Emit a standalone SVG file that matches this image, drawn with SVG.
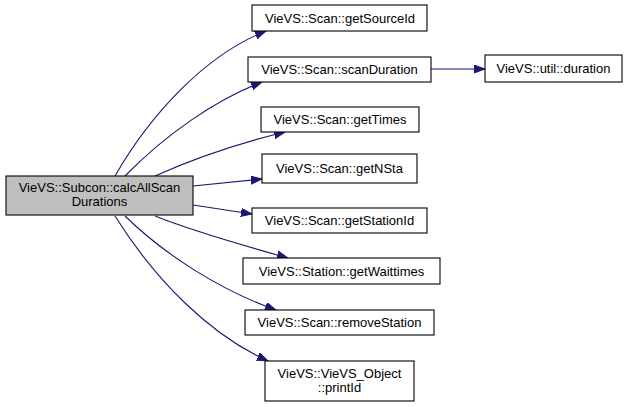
<svg xmlns="http://www.w3.org/2000/svg" width="629" height="407" viewBox="0 0 629 407">
<style>
.n rect{fill:#ffffff;stroke:#000000;stroke-width:1.1}
.n.main rect{fill:#bfbfbf}
text{font-family:"Liberation Sans",Arial,sans-serif;font-size:13px;fill:#000000;text-anchor:middle}
.e path{fill:none;stroke:#191970;stroke-width:1.1;marker-end:url(#ah)}
</style>
<defs>
<marker id="ah" markerUnits="userSpaceOnUse" markerWidth="12" markerHeight="9" refX="11" refY="4" orient="auto">
<path d="M0,0 L11,4 L0,8 z" fill="#191970" stroke="#191970" stroke-width="1"/>
</marker>
</defs>
<rect width="629" height="407" fill="#ffffff"/>
<g id="connectors" class="e">
<path d="M115,176 C150,115 205,55 266,31"/>
<path d="M125,176 C165,135 215,100 262,82"/>
<path d="M155,176 C195,158 240,143 285,132"/>
<path d="M193,186 L262,179"/>
<path d="M193,205 L252,214"/>
<path d="M155,216 C195,232 245,246 288,258"/>
<path d="M125,216 C165,255 220,290 276,310"/>
<path d="M115,216 C155,280 210,335 268,361"/>
<path d="M431,69 L485,69"/>
</g>
<g id="main" class="n main"><rect x="6" y="176" width="187" height="39"/><text x="99.5" y="192">VieVS::Subcon::calcAllScan</text><text x="99.5" y="206">Durations</text></g>
<g id="getSourceId" class="n"><rect x="252" y="5" width="175" height="26"/><text x="340" y="22.5">VieVS::Scan::getSourceId</text></g>
<g id="scanDuration" class="n"><rect x="248" y="57" width="183" height="25"/><text x="339.5" y="74">VieVS::Scan::scanDuration</text></g>
<g id="duration" class="n"><rect x="485" y="55" width="137" height="27"/><text x="553.5" y="73">VieVS::util::duration</text></g>
<g id="getTimes" class="n"><rect x="261" y="107" width="158" height="25"/><text x="340" y="124">VieVS::Scan::getTimes</text></g>
<g id="getNSta" class="n"><rect x="262" y="154" width="155" height="29"/><text x="339.5" y="173">VieVS::Scan::getNSta</text></g>
<g id="getStationId" class="n"><rect x="252" y="208" width="175" height="25"/><text x="339.5" y="225">VieVS::Scan::getStationId</text></g>
<g id="getWaittimes" class="n"><rect x="243" y="258" width="197" height="26"/><text x="341.5" y="275.5">VieVS::Station::getWaittimes</text></g>
<g id="removeStation" class="n"><rect x="245" y="310" width="189" height="25"/><text x="339.5" y="327">VieVS::Scan::removeStation</text></g>
<g id="printId" class="n"><rect x="265" y="361" width="149" height="40"/><text x="339.5" y="377.5">VieVS::VieVS_Object</text><text x="339.5" y="392">::printId</text></g>
</svg>
